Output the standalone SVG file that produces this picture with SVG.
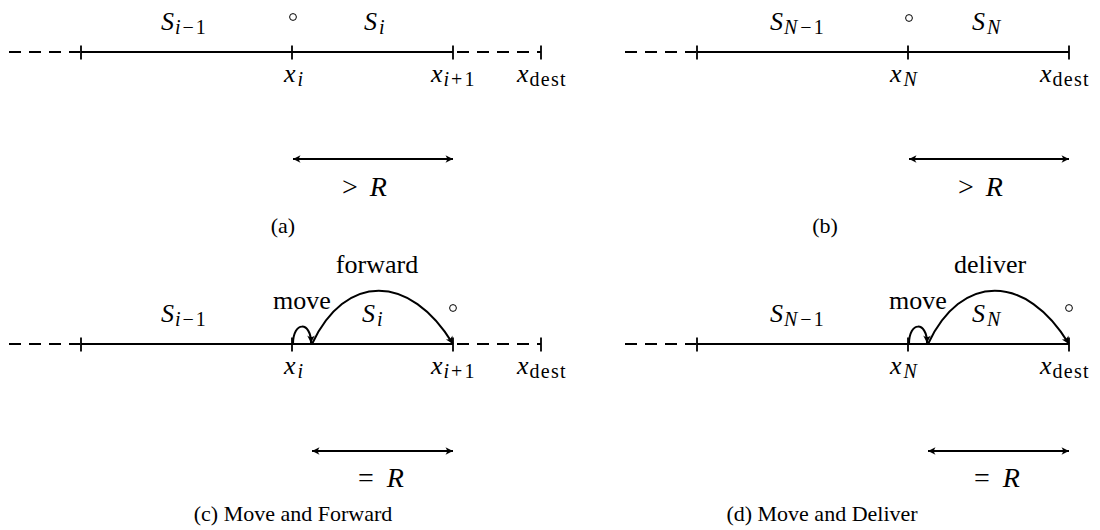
<svg xmlns="http://www.w3.org/2000/svg" width="1100" height="530" viewBox="0 0 1100 530">
<style>
.ln{stroke:#000;stroke-width:1.8;fill:none}
.ds{stroke:#000;stroke-width:1.8;fill:none;stroke-dasharray:12 8}
.tk{stroke:#000;stroke-width:1.8}
.ar{stroke:#000;stroke-width:2;fill:none}
.dot{stroke:#000;stroke-width:1;fill:none}
.m{font-family:"Liberation Serif",serif;font-size:26px;fill:#000}
.r{font-family:"Liberation Serif",serif;font-size:28px;fill:#000}
.i{font-style:italic}
.sb{font-size:20px}
.de{letter-spacing:1.3px}
.t{font-family:"Liberation Serif",serif;font-size:26px;fill:#000}
.cap{font-family:"Liberation Serif",serif;font-size:22px;fill:#000}
</style>
<defs>
<marker id="ah" viewBox="-8 -5 10 10" refX="0" refY="0" markerWidth="10" markerHeight="10" markerUnits="userSpaceOnUse" orient="auto-start-reverse">
<path d="M0,0 L-7.5,-3.8 Q-4.5,0 -7.5,3.8 Z" fill="#000"/>
</marker>
</defs>

<!-- Panel (a) -->
<g id="panel-a">
<path class="ds" d="M9 52 H80"/>
<path class="ln" d="M81 52 H453"/>
<path class="ds" d="M457 52 H541"/>
<path class="tk" d="M81 45.5 V59.5 M292 45.5 V59.5 M453 45.5 V59.5 M541 45.5 V59.5"/>
<circle class="dot" cx="293" cy="17" r="3.4"/>
<text class="m" x="161" y="30"><tspan class="i">S</tspan><tspan class="sb i" dx="1" dy="4">i</tspan><tspan class="sb" dx="2">−</tspan><tspan class="sb" dx="2">1</tspan></text>
<text class="m" x="364" y="30"><tspan class="i">S</tspan><tspan class="sb i" dx="2" dy="4">i</tspan></text>
<text class="m" x="284" y="82"><tspan class="i">x</tspan><tspan class="sb i" dx="2" dy="4">i</tspan></text>
<text class="m" x="431" y="82"><tspan class="i">x</tspan><tspan class="sb i" dx="1" dy="4">i</tspan><tspan class="sb" dx="2">+</tspan><tspan class="sb" dx="2">1</tspan></text>
<text class="m" x="517" y="82"><tspan class="i">x</tspan><tspan class="sb de" dx="1" dy="4">dest</tspan></text>
<text class="r" x="342" y="196">&gt;<tspan class="i" dx="12">R</tspan></text>
<text class="cap" x="283" y="233" text-anchor="middle">(a)</text>
</g>

<!-- Panel (b) -->
<g id="panel-b">
<path class="ds" d="M625 52 H696"/>
<path class="ln" d="M697 52 H1069"/>
<path class="tk" d="M697 45.5 V59.5 M908 45.5 V59.5 M1069 45.5 V59.5"/>
<circle class="dot" cx="909" cy="18" r="3.4"/>
<text class="m" x="770" y="30"><tspan class="i">S</tspan><tspan class="sb i" dx="1" dy="4">N</tspan><tspan class="sb" dx="3">−</tspan><tspan class="sb" dx="2">1</tspan></text>
<text class="m" x="972" y="30"><tspan class="i">S</tspan><tspan class="sb i" dx="2" dy="4">N</tspan></text>
<text class="m" x="890" y="82"><tspan class="i">x</tspan><tspan class="sb i" dx="2" dy="4">N</tspan></text>
<text class="m" x="1040" y="82"><tspan class="i">x</tspan><tspan class="sb de" dx="1" dy="4">dest</tspan></text>
<text class="r" x="958" y="196">&gt;<tspan class="i" dx="12">R</tspan></text>
<text class="cap" x="825" y="233" text-anchor="middle">(b)</text>
</g>

<!-- Panel (c) -->
<g id="panel-c">
<path class="ds" d="M9 344 H80"/>
<path class="ln" d="M81 344 H453"/>
<path class="ds" d="M457 344 H541"/>
<path class="tk" d="M81 337.5 V351.5 M292 337.5 V351.5 M453 337.5 V351.5 M541 337.5 V351.5"/>
<circle class="dot" cx="453" cy="308" r="3.4"/>
<text class="m" x="161" y="322"><tspan class="i">S</tspan><tspan class="sb i" dx="1" dy="4">i</tspan><tspan class="sb" dx="2">−</tspan><tspan class="sb" dx="2">1</tspan></text>
<text class="m" x="362" y="322"><tspan class="i">S</tspan><tspan class="sb i" dx="2" dy="4">i</tspan></text>
<text class="t" x="302" y="309" text-anchor="middle">move</text>
<text class="t" x="377" y="273" text-anchor="middle">forward</text>
<text class="m" x="284" y="374"><tspan class="i">x</tspan><tspan class="sb i" dx="2" dy="4">i</tspan></text>
<text class="m" x="431" y="374"><tspan class="i">x</tspan><tspan class="sb i" dx="1" dy="4">i</tspan><tspan class="sb" dx="2">+</tspan><tspan class="sb" dx="2">1</tspan></text>
<text class="m" x="517" y="374"><tspan class="i">x</tspan><tspan class="sb de" dx="1" dy="4">dest</tspan></text>
<text class="r" x="358" y="487">=<tspan class="i" dx="13">R</tspan></text>
<text class="cap" x="293" y="521" text-anchor="middle">(c) Move and Forward</text>
</g>

<!-- Panel (d) -->
<g id="panel-d">
<path class="ds" d="M625 344 H696"/>
<path class="ln" d="M697 344 H1069"/>
<path class="tk" d="M697 337.5 V351.5 M908 337.5 V351.5 M1069 337.5 V351.5"/>
<circle class="dot" cx="1069" cy="308" r="3.4"/>
<text class="m" x="770" y="322"><tspan class="i">S</tspan><tspan class="sb i" dx="1" dy="4">N</tspan><tspan class="sb" dx="3">−</tspan><tspan class="sb" dx="2">1</tspan></text>
<text class="m" x="972" y="322"><tspan class="i">S</tspan><tspan class="sb i" dx="2" dy="4">N</tspan></text>
<text class="t" x="918" y="309" text-anchor="middle">move</text>
<text class="t" x="990" y="273" text-anchor="middle">deliver</text>
<text class="m" x="890" y="374"><tspan class="i">x</tspan><tspan class="sb i" dx="2" dy="4">N</tspan></text>
<text class="m" x="1040" y="374"><tspan class="i">x</tspan><tspan class="sb de" dx="1" dy="4">dest</tspan></text>
<text class="r" x="974" y="487">=<tspan class="i" dx="13">R</tspan></text>
<text class="cap" x="822" y="521" text-anchor="middle">(d) Move and Deliver</text>
</g>

<!-- Connectors -->
<g id="connectors">
<path class="ar" d="M293 159 H453" marker-start="url(#ah)" marker-end="url(#ah)"/>
<path class="ar" d="M909 159 H1069" marker-start="url(#ah)" marker-end="url(#ah)"/>
<path class="ar" d="M312 451 H453" marker-start="url(#ah)" marker-end="url(#ah)"/>
<path class="ar" d="M928 451 H1069" marker-start="url(#ah)" marker-end="url(#ah)"/>
<path class="ar" d="M293 344 C293 321, 311 321, 311 343" marker-end="url(#ah)"/>
<path class="ar" d="M312 344 C345 273, 410 273, 453 344" marker-end="url(#ah)"/>
<path class="ar" d="M909 344 C909 321, 927 321, 927 343" marker-end="url(#ah)"/>
<path class="ar" d="M928 344 C961 273, 1026 273, 1069 344" marker-end="url(#ah)"/>
</g>
</svg>
